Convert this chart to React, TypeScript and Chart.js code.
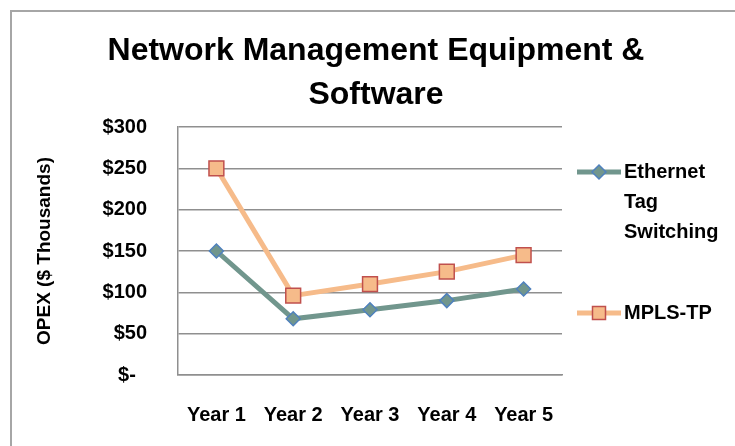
import React, { useEffect, useRef } from "react";
import { Chart, registerables } from "chart.js";

Chart.register(...registerables);

const categories = ["Year 1", "Year 2", "Year 3", "Year 4", "Year 5"];
const ethernetValues = [150, 68, 79, 90, 104];
const mplsValues = [250, 96, 110, 125, 145];
const seriesNames = ["Ethernet Tag Switching", "MPLS-TP"];
const legendLines = [["Ethernet", "Tag", "Switching"], ["MPLS-TP"]];
const titleLines = ["Network Management Equipment &", "Software"];
const yAxisTitle = "OPEX ($ Thousands)";
const yMin = 0;
const yMax = 300;
const yStep = 50;

const FONT = "'Liberation Sans', Arial, sans-serif";
const ETH_LINE = "#71968d";
const ETH_BORDER = "#4f81bd";
const MPLS_LINE = "#f6bb8a";
const MPLS_BORDER = "#c0504d";
const GRID = "#8f8f8f";

const borderPlugin = {
  id: "outerBorder",
  beforeDraw(chart: any) {
    const { ctx } = chart;
    ctx.save();
    ctx.fillStyle = "#fff";
    ctx.fillRect(0, 0, chart.width, chart.height);
    ctx.strokeStyle = "#a6a6a6";
    ctx.lineWidth = 2;
    ctx.strokeRect(11, 11, chart.width + 20, chart.height + 20);
    ctx.restore();
  },
};

const legendPlugin = {
  id: "sideLegend",
  afterDraw(chart: any) {
    const { ctx, chartArea } = chart;
    const x0 = chartArea.right + 15;
    const lineLen = 44;
    const tx = x0 + lineLen + 3;
    const starts = [chartArea.top + 45, chartArea.top + 186];
    ctx.save();
    chart.data.datasets.forEach((ds: any, i: number) => {
      const y = starts[i];
      ctx.strokeStyle = ds.borderColor;
      ctx.lineWidth = 5;
      ctx.beginPath();
      ctx.moveTo(x0, y);
      ctx.lineTo(x0 + lineLen, y);
      ctx.stroke();
      const cx = x0 + lineLen / 2;
      ctx.fillStyle = ds.pointBackgroundColor;
      ctx.strokeStyle = ds.pointBorderColor;
      ctx.lineWidth = 1.5;
      ctx.beginPath();
      if (ds.pointStyle === "rectRot") {
        const r = 7;
        ctx.moveTo(cx - r, y);
        ctx.lineTo(cx, y - r);
        ctx.lineTo(cx + r, y);
        ctx.lineTo(cx, y + r);
        ctx.closePath();
      } else {
        const s = 6.5;
        ctx.rect(cx - s, y - s, 2 * s, 2 * s);
      }
      ctx.fill();
      ctx.stroke();
      ctx.fillStyle = "#000";
      ctx.font = `bold 20px ${FONT}`;
      ctx.textAlign = "left";
      ctx.textBaseline = "middle";
      legendLines[i].forEach((t, j) => {
        ctx.fillText(t, tx, y + j * 30);
      });
    });
    ctx.restore();
  },
};

export default function App() {
  const ref = useRef<HTMLCanvasElement>(null);

  useEffect(() => {
    document.body.style.margin = "0";
    Chart.defaults.font.family = FONT;
    const chart = new Chart(ref.current as HTMLCanvasElement, {
      type: "line",
      data: {
        labels: categories,
        datasets: [
          {
            label: seriesNames[0],
            data: ethernetValues,
            borderColor: ETH_LINE,
            borderWidth: 5,
            pointStyle: "rectRot",
            pointRadius: 7,
            pointBackgroundColor: ETH_LINE,
            pointBorderColor: ETH_BORDER,
            pointBorderWidth: 1.5,
            tension: 0,
          } as any,
          {
            label: seriesNames[1],
            data: mplsValues,
            borderColor: MPLS_LINE,
            borderWidth: 5,
            pointStyle: "rect",
            pointRadius: 10.5,
            pointBackgroundColor: MPLS_LINE,
            pointBorderColor: MPLS_BORDER,
            pointBorderWidth: 1.5,
            tension: 0,
          } as any,
        ],
      },
      options: {
        animation: false,
        responsive: false,
        layout: { padding: { left: 17, right: 0, top: 0, bottom: 0 } },
        plugins: {
          legend: { display: false },
          tooltip: { enabled: false },
          title: {
            display: true,
            text: titleLines,
            color: "#000",
            font: { family: FONT, size: 32, weight: "bold", lineHeight: 1.375 },
            padding: { top: 29, bottom: 10 },
          },
        },
        scales: {
          x: {
            offset: true,
            grid: { display: false, drawTicks: false },
            border: { display: true, color: GRID, width: 1.5 },
            ticks: {
              color: "#000",
              font: { family: FONT, size: 20, weight: "bold" },
              padding: 28,
              maxRotation: 0,
            },
            afterFit: (s: any) => {
              s.height = 71;
            },
          },
          y: {
            min: yMin,
            max: yMax,
            grid: { color: GRID, lineWidth: 1.5, drawTicks: false },
            border: { display: true, color: GRID, width: 1.5 },
            ticks: {
              stepSize: yStep,
              color: "#000",
              padding: 31,
              font: { family: FONT, size: 20, weight: "bold" },
              callback: (v: any) => (Number(v) === 0 ? "$-  " : "$" + v),
            },
            title: {
              display: true,
              text: yAxisTitle,
              color: "#000",
              font: { family: FONT, size: 19, weight: "bold" },
              padding: { top: 16.6, bottom: 0 },
            },
            afterFit: (s: any) => {
              s.width = 161;
            },
          },
          legendSpace: {
            type: "linear",
            position: "right",
            display: true,
            grid: { display: false, drawTicks: false },
            border: { display: false },
            ticks: { display: false },
            afterFit: (s: any) => {
              s.width = 173;
            },
          } as any,
        },
      },
      plugins: [borderPlugin, legendPlugin],
    });
    return () => chart.destroy();
  }, []);

  return (
    <div style={{ position: "fixed", left: 0, top: 0, width: 735, height: 446 }}>
      <canvas ref={ref} width={735} height={446} style={{ width: 735, height: 446 }} />
    </div>
  );
}
